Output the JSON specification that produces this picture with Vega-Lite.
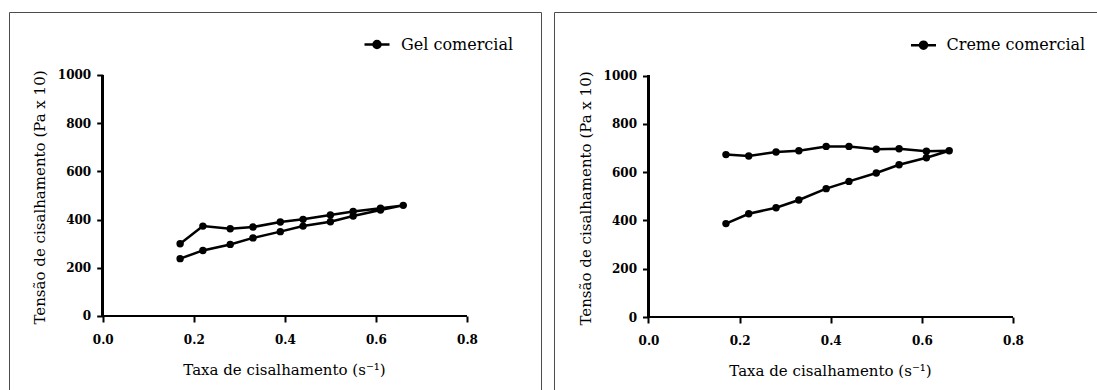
{
  "$schema": "https://vega.github.io/schema/vega-lite/v6.json",
  "background": "white",
  "padding": {"left": 8, "top": 11, "right": 0, "bottom": 0},
  "autosize": {"type": "pad"},
  "spacing": 11,
  "config": {
    "view": {"stroke": "#4d4d4d", "strokeWidth": 1},
    "axis": {
      "grid": false, "domain": false, "tickColor": "black", "tickWidth": 2, "tickSize": 6,
      "labelFont": "DejaVu Serif", "labelFontWeight": "bold", "labelFontSize": 12, "labelColor": "black",
      "titleFont": "DejaVu Serif", "titleFontWeight": "normal", "titleFontSize": 15, "titleColor": "black",
      "labelFlush": false, "labelOverlap": false
    },
    "legend": {"labelFont": "DejaVu Serif", "labelFontSize": 16, "labelColor": "black", "padding": 0}
  },
  "resolve": {"scale": {"color": "independent"}, "legend": {"color": "independent"}},
  "hconcat": [
    {
      "width": 532, "height": 378,
      "data": {"values": [
        {"amostra": "Gel comercial", "ordem": 1, "taxa": 0.17, "tensao": 238},
        {"amostra": "Gel comercial", "ordem": 2, "taxa": 0.22, "tensao": 272},
        {"amostra": "Gel comercial", "ordem": 3, "taxa": 0.28, "tensao": 297},
        {"amostra": "Gel comercial", "ordem": 4, "taxa": 0.33, "tensao": 324},
        {"amostra": "Gel comercial", "ordem": 5, "taxa": 0.39, "tensao": 350},
        {"amostra": "Gel comercial", "ordem": 6, "taxa": 0.44, "tensao": 373},
        {"amostra": "Gel comercial", "ordem": 7, "taxa": 0.50, "tensao": 391},
        {"amostra": "Gel comercial", "ordem": 8, "taxa": 0.55, "tensao": 415},
        {"amostra": "Gel comercial", "ordem": 9, "taxa": 0.61, "tensao": 440},
        {"amostra": "Gel comercial", "ordem": 10, "taxa": 0.66, "tensao": 459},
        {"amostra": "Gel comercial", "ordem": 11, "taxa": 0.61, "tensao": 447},
        {"amostra": "Gel comercial", "ordem": 12, "taxa": 0.55, "tensao": 434},
        {"amostra": "Gel comercial", "ordem": 13, "taxa": 0.50, "tensao": 419},
        {"amostra": "Gel comercial", "ordem": 14, "taxa": 0.44, "tensao": 401},
        {"amostra": "Gel comercial", "ordem": 15, "taxa": 0.39, "tensao": 390},
        {"amostra": "Gel comercial", "ordem": 16, "taxa": 0.33, "tensao": 369},
        {"amostra": "Gel comercial", "ordem": 17, "taxa": 0.28, "tensao": 362},
        {"amostra": "Gel comercial", "ordem": 18, "taxa": 0.22, "tensao": 373},
        {"amostra": "Gel comercial", "ordem": 19, "taxa": 0.17, "tensao": 300}
      ]},
      "layer": [
        {
          "mark": {"type": "line", "color": "black", "strokeWidth": 2.5, "point": {"filled": true, "size": 55, "opacity": 1}},
          "encoding": {
            "x": {"field": "taxa", "type": "quantitative",
              "scale": {"domain": [-0.2058, 0.9625], "nice": false, "zero": false},
              "axis": {"values": [0, 0.2, 0.4, 0.6, 0.8], "format": ".1f", "offset": -74,
                "title": "Taxa de cisalhamento (s⁻¹)", "titleX": 275, "titleY": 58, "titleBaseline": "alphabetic", "titleAlign": "center",
                "labelBaseline": "alphabetic", "labelPadding": 21}},
            "y": {"field": "tensao", "type": "quantitative",
              "scale": {"domain": [-307.1, 1261.4], "nice": false, "zero": false},
              "axis": {"values": [0, 200, 400, 600, 800, 1000], "format": "d", "offset": -93.7,
                "title": "Tensão de cisalhamento (Pa x 10)", "titleX": -58, "titleY": 185, "titleAngle": -90, "titleBaseline": "alphabetic", "titleAlign": "center",
                "labelPadding": 6}},
            "order": {"field": "ordem", "type": "quantitative"},
            "color": {"field": "amostra", "type": "nominal", "scale": {"range": ["black"]},
              "legend": {"title": null, "orient": "none", "legendX": 354, "legendY": 18.5,
                "symbolType": "M-1,0H1M0.28,0A0.28,0.28,0,1,1,-0.28,0A0.28,0.28,0,1,1,0.28,0Z",
                "symbolSize": 625, "labelOffset": 10,
                "encode": {"symbols": {"update": {"fill": {"value": "black"}, "stroke": {"value": "black"}, "strokeWidth": {"value": 2.5}, "opacity": {"value": 1}}}}}}
          }
        },
        {
          "mark": {"type": "rule", "color": "black", "strokeWidth": 2},
          "encoding": {
            "x": {"datum": 0, "type": "quantitative"},
            "x2": {"datum": 0.8},
            "y": {"datum": 0, "type": "quantitative"}
          }
        },
        {
          "mark": {"type": "rule", "color": "black", "strokeWidth": 2},
          "encoding": {
            "x": {"datum": 0, "type": "quantitative"},
            "y": {"datum": 0, "type": "quantitative"},
            "y2": {"datum": 1000}
          }
        }
      ]
    },
    {
      "width": 545, "height": 378,
      "data": {"values": [
        {"amostra": "Creme comercial", "ordem": 1, "taxa": 0.17, "tensao": 387},
        {"amostra": "Creme comercial", "ordem": 2, "taxa": 0.22, "tensao": 428},
        {"amostra": "Creme comercial", "ordem": 3, "taxa": 0.28, "tensao": 453},
        {"amostra": "Creme comercial", "ordem": 4, "taxa": 0.33, "tensao": 485},
        {"amostra": "Creme comercial", "ordem": 5, "taxa": 0.39, "tensao": 532},
        {"amostra": "Creme comercial", "ordem": 6, "taxa": 0.44, "tensao": 562},
        {"amostra": "Creme comercial", "ordem": 7, "taxa": 0.50, "tensao": 597},
        {"amostra": "Creme comercial", "ordem": 8, "taxa": 0.55, "tensao": 631},
        {"amostra": "Creme comercial", "ordem": 9, "taxa": 0.61, "tensao": 660},
        {"amostra": "Creme comercial", "ordem": 10, "taxa": 0.66, "tensao": 689},
        {"amostra": "Creme comercial", "ordem": 11, "taxa": 0.61, "tensao": 687},
        {"amostra": "Creme comercial", "ordem": 12, "taxa": 0.55, "tensao": 697},
        {"amostra": "Creme comercial", "ordem": 13, "taxa": 0.50, "tensao": 695},
        {"amostra": "Creme comercial", "ordem": 14, "taxa": 0.44, "tensao": 707},
        {"amostra": "Creme comercial", "ordem": 15, "taxa": 0.39, "tensao": 707},
        {"amostra": "Creme comercial", "ordem": 16, "taxa": 0.33, "tensao": 689},
        {"amostra": "Creme comercial", "ordem": 17, "taxa": 0.28, "tensao": 684},
        {"amostra": "Creme comercial", "ordem": 18, "taxa": 0.22, "tensao": 667},
        {"amostra": "Creme comercial", "ordem": 19, "taxa": 0.17, "tensao": 673}
      ]},
      "layer": [
        {
          "mark": {"type": "line", "color": "black", "strokeWidth": 2.5, "point": {"filled": true, "size": 55, "opacity": 1}},
          "encoding": {
            "x": {"field": "taxa", "type": "quantitative",
              "scale": {"domain": [-0.2074, 0.9888], "nice": false, "zero": false},
              "axis": {"values": [0, 0.2, 0.4, 0.6, 0.8], "format": ".1f", "offset": -73,
                "title": "Taxa de cisalhamento (s⁻¹)", "titleX": 276, "titleY": 58, "titleBaseline": "alphabetic", "titleAlign": "center",
                "labelBaseline": "alphabetic", "labelPadding": 21}},
            "y": {"field": "tensao", "type": "quantitative",
              "scale": {"domain": [-302.5, 1264], "nice": false, "zero": false},
              "axis": {"values": [0, 200, 400, 600, 800, 1000], "format": "d", "offset": -94.5,
                "title": "Tensão de cisalhamento (Pa x 10)", "titleX": -58, "titleY": 186, "titleAngle": -90, "titleBaseline": "alphabetic", "titleAlign": "center",
                "labelPadding": 6}},
            "order": {"field": "ordem", "type": "quantitative"},
            "color": {"field": "amostra", "type": "nominal", "scale": {"range": ["black"]},
              "legend": {"title": null, "orient": "none", "legendX": 355.5, "legendY": 19.2,
                "symbolType": "M-1,0H1M0.28,0A0.28,0.28,0,1,1,-0.28,0A0.28,0.28,0,1,1,0.28,0Z",
                "symbolSize": 625, "labelOffset": 9,
                "encode": {"symbols": {"update": {"fill": {"value": "black"}, "stroke": {"value": "black"}, "strokeWidth": {"value": 2.5}, "opacity": {"value": 1}}}}}}
          }
        },
        {
          "mark": {"type": "rule", "color": "black", "strokeWidth": 2},
          "encoding": {
            "x": {"datum": 0, "type": "quantitative"},
            "x2": {"datum": 0.8},
            "y": {"datum": 0, "type": "quantitative"}
          }
        },
        {
          "mark": {"type": "rule", "color": "black", "strokeWidth": 2},
          "encoding": {
            "x": {"datum": 0, "type": "quantitative"},
            "y": {"datum": 0, "type": "quantitative"},
            "y2": {"datum": 1000}
          }
        }
      ]
    }
  ]
}
